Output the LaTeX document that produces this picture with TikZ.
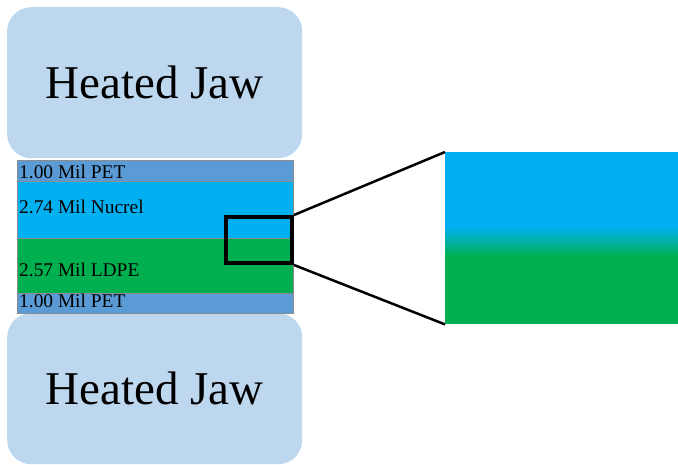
\documentclass[tikz,border=0pt]{standalone}
\usepackage{fontspec}
\setmainfont{Liberation Serif}
\usepackage{tikz}
\usetikzlibrary{positioning}

\definecolor{jawblue}{HTML}{BDD7EE}
\definecolor{petblue}{HTML}{5B9BD5}
\definecolor{nucrel}{HTML}{00B0F0}
\definecolor{ldpe}{HTML}{00B050}

\begin{document}
\begin{tikzpicture}[x=1pt,y=-1pt]
	\tikzstyle{jaw} = [rectangle, rounded corners=24pt, fill=jawblue, minimum width=295pt, minimum height=151pt, inner sep=0pt, font=\fontsize{47}{47}\selectfont]
	\tikzstyle{layer} = [rectangle, draw=black!45, line width=0.6pt, minimum width=276pt, inner sep=0pt, outer sep=0pt]
	\tikzstyle{lbl} = [anchor=base west, inner sep=0pt, font=\fontsize{19.4}{19.4}\selectfont]
	
	\useasboundingbox (0,0) rectangle (678,464);
	
	% jaws
	\node[jaw, anchor=north west] (topjaw) at (7,7) {Heated Jaw};
	\node[jaw, anchor=north west] (botjaw) at (7,313) {Heated Jaw};
	
	% film layers
	\node[layer, anchor=north west, fill=petblue, minimum height=21pt] (pet1) at (17,160) {};
	\node[layer, fill=nucrel, minimum height=57pt, below = 0pt of pet1] (nuc) {};
	\node[layer, fill=ldpe, minimum height=55pt, below = 0pt of nuc] (ldpe) {};
	\node[layer, fill=petblue, minimum height=20pt, below = 0pt of ldpe] (pet2) {};
	
	\node[lbl] (t1) at (19,178) {1.00 Mil PET};
	\node[lbl] (t2) at (19,213) {2.74 Mil Nucrel};
	\node[lbl] (t3) at (19,276) {2.57 Mil LDPE};
	\node[lbl] (t4) at (19,307) {1.00 Mil PET};
	
	% magnified view
	\coordinate (mag) at (445,152);
	\fill[nucrel] (mag) rectangle (678,228);
	\shade[top color=nucrel, bottom color=ldpe] (445,227) rectangle (678,257);
	\fill[ldpe] (445,256) rectangle (678,324);
	\node[rectangle, minimum width=233pt, minimum height=172pt, inner sep=0pt, anchor=north west] (zoom) at (mag) {};
	
	% marked region
	\node[draw, line width=4pt, rectangle, minimum width=66pt, minimum height=46pt, inner sep=0pt, anchor=north west] (box) at (224,215) {};
	
	\draw[line width=2.5pt] (box.north east) -- (zoom.north west);
	\draw[line width=2.5pt] (box.south east) -- (zoom.south west);
	
\end{tikzpicture}
\end{document}
